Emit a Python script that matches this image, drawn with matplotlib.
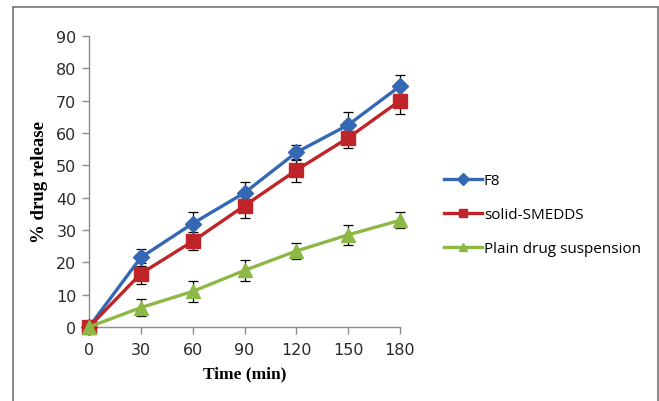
import matplotlib
matplotlib.use("Agg")
import matplotlib.pyplot as plt

time_min = [0, 30, 60, 90, 120, 150, 180]
f8 = [0, 21.5, 32, 41.5, 54, 62.5, 74.5]
f8_err = [0, 2.5, 3.5, 3.5, 2.3, 4.0, 3.5]
smedds = [0, 16.5, 26.5, 37.5, 48.5, 58.5, 70]
smedds_err = [0, 3.3, 2.8, 3.7, 3.5, 3.0, 4.0]
plain = [0, 6, 11, 17.5, 23.5, 28.5, 33]
plain_err = [0, 2.6, 3.2, 3.3, 2.5, 3.1, 2.5]
series_names = ["F8", "solid-SMEDDS", "Plain drug suspension"]
x_ticks = [0, 30, 60, 90, 120, 150, 180]
y_ticks = [0, 10, 20, 30, 40, 50, 60, 70, 80, 90]

W, H = 659, 402
fig = plt.figure(figsize=(W / 100, H / 100), dpi=100)
fig.patch.set_facecolor("white")

# outer frame (left, top, right)
fig.add_artist(plt.Line2D([13 / W, 13 / W], [0, 1 - 8 / H], transform=fig.transFigure, color="#777777", lw=1.2))
fig.add_artist(plt.Line2D([13 / W, 658 / W], [1 - 8 / H, 1 - 8 / H], transform=fig.transFigure, color="#777777", lw=1.2))
fig.add_artist(plt.Line2D([658 / W, 658 / W], [0, 1 - 8 / H], transform=fig.transFigure, color="#777777", lw=1.2))

ax = fig.add_axes([89 / W, 1 - 328 / H, (400 - 89) / W, (328 - 37) / H])

colors = ["#3468B4", "#BE2428", "#8DB846"]
markers = ["D", "s", "^"]
msizes = [8, 9.5, 10]
data = [(f8, f8_err), (smedds, smedds_err), (plain, plain_err)]

handles = []
for (vals, errs), c, m, ms, name in zip(data, colors, markers, msizes, series_names):
    ax.errorbar(time_min, vals, yerr=errs, fmt="none", ecolor="black", elinewidth=0.9,
                capsize=3.5, capthick=0.9, zorder=2, clip_on=False)
    h, = ax.plot(time_min, vals, color=c, lw=2.4, marker=m, markersize=ms,
                 markerfacecolor=c, markeredgecolor=c, zorder=3, clip_on=False, label=name)
    handles.append(h)

ax.set_xlim(0, 180)
ax.set_ylim(0, 90)
ax.set_xticks(x_ticks)
ax.set_yticks(y_ticks)
for s in ["top", "right"]:
    ax.spines[s].set_visible(False)
for s in ["left", "bottom"]:
    ax.spines[s].set_color("#8C8C8C")
    ax.spines[s].set_linewidth(1.0)
ax.tick_params(axis="both", colors="#8C8C8C", length=5, width=1.0, labelcolor="#2A2A2A",
               labelsize=11.5)
ax.tick_params(axis="x", pad=6)
ax.tick_params(axis="y", pad=4)
for lbl in ax.get_xticklabels() + ax.get_yticklabels():
    lbl.set_family("DejaVu Sans")

ax.set_xlabel("Time (min)", fontfamily="Liberation Serif", fontweight="bold", fontsize=12.5, labelpad=6)
ax.set_ylabel("% drug release", fontfamily="Liberation Serif", fontweight="bold", fontsize=13.5, labelpad=6)

leg = fig.legend(handles=handles, labels=series_names, loc="upper left",
                 bbox_to_anchor=(438 / W, 1 - 168 / H), frameon=False,
                 prop={"family": "Open Sans", "size": 11}, handlelength=2.5,
                 handletextpad=0.1, labelspacing=1.25, borderaxespad=0)
for lh in leg.legend_handles:
    lh.set_markersize(6)

fig.savefig("out.png", dpi=100, facecolor="white")
